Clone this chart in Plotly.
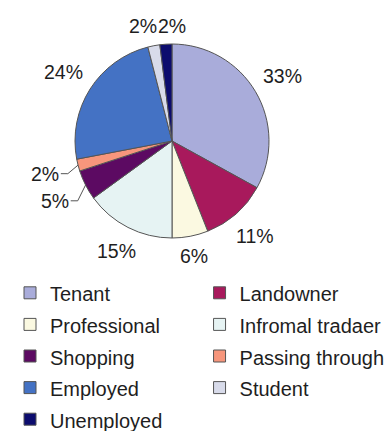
import math
import plotly.graph_objects as go

# Share of respondents by category
categories = ["Tenant", "Landowner", "Professional", "Infromal tradaer", "Shopping",
              "Passing through", "Employed", "Student", "Unemployed"]
shares = [33, 11, 6, 15, 5, 2, 24, 2, 2]
colors = ["#a9acda", "#a8195c", "#fbf9e1", "#e6f3f3", "#5c0a62",
          "#f7967c", "#4472c4", "#d8dbea", "#0c0c6e"]

W, H = 389, 431
CX, CY, R = 172, 141, 97          # pie centre and radius in pixels
FONT = "Liberation Sans, Arial, sans-serif"
LABEL_SIZE = 19.5
LABEL_GAP = 11                     # clearance between rim and label box
LEADER_PUSH = 8                    # extra offset for labels drawn with a leader
HALF_H = 7                         # half height of a label box
GLYPH_W = {**{d: 0.556 for d in "0123456789"}, "%": 0.889}
TEXT_COLOR = "#1e1e1e"


def px_x(x):
    return x / W


def px_y(y):
    return 1 - y / H


# ---- percentage labels placed around the rim ------------------------------
total = sum(shares)
labels = []
cum = 0.0
for v in shares:
    mid = (cum + v / 2) / total * 360.0
    cum += v
    pct = v / total * 100
    text = f"{round(pct)}%"
    hw = sum(GLYPH_W[c] for c in text) * LABEL_SIZE / 2
    side = abs(math.sin(math.radians(mid)))
    leader = pct <= 5 and side > 0.5
    labels.append(dict(mid=mid, theta=mid, text=text, hw=hw, leader=leader))


def label_pos(lab):
    t = math.radians(lab["theta"])
    ux, uy = math.sin(t), -math.cos(t)
    d = R + LABEL_GAP + abs(ux) * lab["hw"] + abs(uy) * HALF_H
    if lab["leader"]:
        d += LEADER_PUSH
    return CX + d * ux, CY + d * uy


# spread neighbouring labels apart along the rim until they no longer overlap
n = len(labels)
for _ in range(400):
    moved = False
    for i in range(n):
        a, b = labels[i], labels[(i + 1) % n]
        ax, ay = label_pos(a)
        bx, by = label_pos(b)
        if abs(ax - bx) < a["hw"] + b["hw"] and abs(ay - by) < 2 * HALF_H + 1:
            a["theta"] -= 0.2
            b["theta"] += 0.2
            moved = True
    if not moved:
        break

annotations = []
shapes = []
for lab in labels:
    x, y = label_pos(lab)
    annotations.append(dict(
        x=px_x(x), y=px_y(y), xref="paper", yref="paper",
        text=lab["text"], showarrow=False,
        xanchor="center", yanchor="middle",
        font=dict(family=FONT, size=LABEL_SIZE, color=TEXT_COLOR),
    ))
    if lab["leader"]:
        t = math.radians(lab["mid"])
        ex, ey = CX + R * math.sin(t), CY - R * math.cos(t)
        s = 1 if x < CX else -1
        end_x = x + s * (lab["hw"] + 2)
        knee_x = end_x + s * 7
        path = (f"M {px_x(ex)},{px_y(ey)} L {px_x(knee_x)},{px_y(y)} "
                f"L {px_x(end_x)},{px_y(y)}")
        shapes.append(dict(type="path", path=path, xref="paper", yref="paper",
                           line=dict(color="#555555", width=1)))

legend_names = [f"<span style='font-size:20px'>{c}</span>" for c in categories]

fig = go.Figure(go.Pie(
    labels=legend_names,
    values=shares,
    customdata=categories,
    sort=False,
    direction="clockwise",
    rotation=0,
    marker=dict(colors=colors, line=dict(color="#555555", width=1)),
    textinfo="none",
    hovertemplate="%{customdata}: %{percent:.0%}<extra></extra>",
    domain=dict(x=[px_x(CX - R), px_x(CX + R)], y=[px_y(CY + R), px_y(CY - R)]),
    automargin=False,
))

fig.update_layout(
    width=W, height=H,
    margin=dict(l=0, r=0, t=0, b=0, autoexpand=False),
    paper_bgcolor="white",
    plot_bgcolor="white",
    font=dict(family=FONT, color=TEXT_COLOR),
    annotations=annotations,
    shapes=shapes,
    legend=dict(
        orientation="h",
        x=px_x(10), xanchor="left",
        y=px_y(272), yanchor="top",
        font=dict(size=22, color=TEXT_COLOR),
        traceorder="normal",
        maxheight=1,
        bgcolor="rgba(0,0,0,0)",
    ),
)

fig.write_html("out.html")
